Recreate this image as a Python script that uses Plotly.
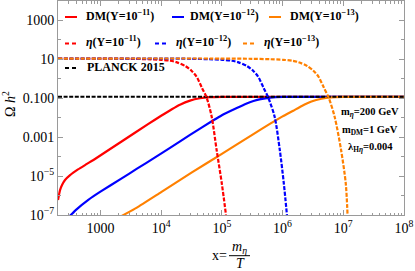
import plotly.graph_objects as go

# ---------------- data ----------------
x_dm11 = [200, 208, 216, 233, 261, 316, 427, 589, 813, 2265, 6080, 1.0e4, 1.5e4, 2.04e4, 2.99e4, 4.37e4, 6.31e4, 1.0e5, 1.0e8]
y_dm11 = [5.9e-7, 1.12e-6, 1.9e-6, 3.5e-6, 6.3e-6, 1.12e-5, 2.2e-5, 4.1e-5, 7.6e-5, 6.2e-4, 4.7e-3, 1.26e-2, 2.75e-2, 4.7e-2, 7.6e-2, 0.100, 0.1135, 0.119, 0.12]

x_dm12 = [280, 400, 631, 1000, 2240, 4000, 7940, 1.4e4, 2.99e4, 7.24e4, 1.0e5, 1.76e5, 2.51e5, 3.31e5, 4.37e5, 6.31e5, 1.0e6, 1.0e8]
y_dm12 = [6.3e-8, 1.9e-7, 6.0e-7, 1.58e-6, 7.6e-6, 2.4e-5, 9.1e-5, 2.8e-4, 1.32e-3, 7.4e-3, 1.35e-2, 3.16e-2, 5.25e-2, 7.2e-2, 9.1e-2, 0.108, 0.1175, 0.12]

x_dm13 = [2240, 3980, 1.0e4, 3.16e4, 1.0e5, 3.16e5, 6.17e5, 1.0e6, 1.5e6, 2.04e6, 2.99e6, 4.37e6, 6.31e6, 1.0e7, 1.0e8]
y_dm13 = [8.9e-8, 2.4e-7, 1.5e-6, 1.5e-5, 1.38e-4, 1.32e-3, 4.8e-3, 1.17e-2, 2.3e-2, 3.9e-2, 6.8e-2, 9.5e-2, 0.112, 0.119, 0.12]

x_eta11 = [200, 1000, 3020, 6030, 1.0e4, 1.41e4, 1.78e4, 2.51e4, 3.16e4, 3.8e4, 4.68e4, 5.62e4, 6.8e4, 8.2e4, 1.0e5, 1.17e5]
y_eta11 = [11, 11, 10.7, 10.2, 9.5, 8.5, 7.2, 4.5, 2.6, 1.35, 0.355, 0.107, 0.0112, 2.2e-4, 4e-6, 1e-7]

x_eta12 = [200, 1.0e4, 3.1e4, 6.2e4, 1.03e5, 1.46e5, 1.84e5, 2.6e5, 3.27e5, 3.93e5, 4.84e5, 5.82e5, 7.4e5, 9.0e5, 1.05e6, 1.18e6]
y_eta12 = [11, 11, 10.7, 10.2, 9.5, 8.5, 7.2, 4.5, 2.6, 1.35, 0.355, 0.107, 0.0112, 2.2e-4, 4e-6, 1e-7]

x_eta13 = [200, 1.0e5, 3.1e5, 6.2e5, 1.02e6, 1.44e6, 1.82e6, 2.56e6, 3.22e6, 3.88e6, 4.78e6, 5.75e6, 7.2e6, 9.2e6, 1.1e7, 1.175e7]
y_eta13 = [11, 11, 10.7, 10.2, 9.5, 8.5, 7.2, 4.5, 2.6, 1.35, 0.355, 0.107, 0.0112, 2.2e-4, 4e-6, 1e-7]

planck_x = [200, 1.0e8]
planck_y = [0.12, 0.12]

x_tickvals = [1e3, 1e4, 1e5, 1e6, 1e7, 1e8]
x_ticktext = ["1000", "10<sup>4</sup>", "10<sup>5</sup>", "10<sup>6</sup>", "10<sup>7</sup>", "10<sup>8</sup>"]
y_tickvals = [1e-7, 1e-5, 1e-3, 1e-1, 1e1, 1e3]
y_ticktext = ["10<sup>\u22127</sup>", "10<sup>\u22125</sup>", "0.001", "0.100", "10", "1000"]
y_minorvals = [1e-6, 1e-4, 1e-2, 1e0, 1e2, 1e4]
x_minorvals = [m * 10 ** e for e in range(2, 8) for m in range(2, 10) if m * 10 ** e > 200]

labels_dm = ["DM(Y=10<sup>\u221211</sup>)", "DM(Y=10<sup>\u221212</sup>)", "DM(Y=10<sup>\u221213</sup>)"]
labels_eta = ["<i>\u03b7</i>(Y=10<sup>\u221211</sup>)", "<i>\u03b7</i>(Y=10<sup>\u221212</sup>)", "<i>\u03b7</i>(Y=10<sup>\u221213</sup>)"]
label_planck = "PLANCK 2015"

RED, BLUE, ORANGE = "#ff0000", "#0000ff", "#ff8000"

# ---------------- layout geometry ----------------
W_FIG, H_FIG = 415, 271
L, R, T, B = 58, 11, 1, 56
PW, PH = W_FIG - L - R, H_FIG - T - B


def px(xp):
    return (xp - L) / PW


def py(yp):
    return 1 - (yp - T) / PH


SERIF = "Liberation Serif"
DASH = "4px,1.6px"

fig = go.Figure()
for xs, ys, c, name in [(x_dm11, y_dm11, RED, labels_dm[0]),
                        (x_dm12, y_dm12, BLUE, labels_dm[1]),
                        (x_dm13, y_dm13, ORANGE, labels_dm[2])]:
    fig.add_trace(go.Scatter(x=xs, y=ys, mode="lines", name=name, showlegend=False,
                             line=dict(color=c, width=2.2, shape="spline", smoothing=0.4)))

fig.add_trace(go.Scatter(x=planck_x, y=planck_y, mode="lines", name=label_planck, showlegend=False,
                         line=dict(color="black", width=2, dash=DASH)))

for xs, ys, c, name in [(x_eta11, y_eta11, RED, labels_eta[0]),
                        (x_eta12, y_eta12, BLUE, labels_eta[1]),
                        (x_eta13, y_eta13, ORANGE, labels_eta[2])]:
    fig.add_trace(go.Scatter(x=xs, y=ys, mode="lines", name=name, showlegend=False,
                             line=dict(color=c, width=2.2, dash=DASH, shape="spline", smoothing=0.8)))

AX = "#9a9a9a"
fig.update_xaxes(type="log", range=[2.30103, 8], showgrid=False, zeroline=False,
                 showline=True, linecolor=AX, linewidth=1, mirror="ticks",
                 ticks="inside", ticklen=5, tickcolor=AX, tickmode="array",
                 tickvals=x_tickvals, ticktext=x_ticktext,
                 tickfont=dict(family=SERIF, size=14, color="black"),
                 minor=dict(ticks="inside", ticklen=2.5, tickcolor=AX, tickmode="array",
                            tickvals=x_minorvals))
fig.update_yaxes(type="log", range=[-7, 4], showgrid=False, zeroline=False,
                 showline=True, linecolor=AX, linewidth=1, mirror="ticks",
                 ticks="inside", ticklen=5, tickcolor=AX, tickmode="array",
                 tickvals=y_tickvals, ticktext=y_ticktext,
                 tickfont=dict(family=SERIF, size=14, color="black"),
                 minor=dict(ticks="inside", ticklen=3, tickcolor=AX, tickmode="array",
                            tickvals=y_minorvals))

annotations = []
shapes = []

# legend (manual, Mathematica style)
LEG_FONT = dict(family=SERIF, size=12, color="black")
legend_items = [
    # (symbol x0, x1, y, text x, color, dashed, label)
    (65, 77, 17, 84, RED, False, labels_dm[0]),
    (172, 184, 17, 188, BLUE, False, labels_dm[1]),
    (269, 281, 17, 288, ORANGE, False, labels_dm[2]),
    (65, 77, 43.5, 84, RED, True, labels_eta[0]),
    (155, 167, 43.5, 174, BLUE, True, labels_eta[1]),
    (243, 255, 43.5, 262, ORANGE, True, labels_eta[2]),
    (65, 77, 68, 85, "black", True, label_planck),
]
for x0, x1, yy, xt, c, dashed, lab in legend_items:
    shapes.append(dict(type="line", xref="paper", yref="paper",
                       x0=px(x0), x1=px(x1), y0=py(yy), y1=py(yy),
                       line=dict(color=c, width=2, dash="4px,3px" if dashed else "solid")))
    annotations.append(dict(xref="paper", yref="paper", x=px(xt), y=py(yy - 1.5),
                            xanchor="left", yanchor="middle", showarrow=False,
                            text="<b>" + lab + "</b>", font=LEG_FONT))

# parameter box
PAR_FONT = dict(family=SERIF, size=10.5, color="black")
for txt, yy in [("<b>m<sub><i>\u03b7</i></sub>=200 GeV</b>", 113),
                ("<b>m<sub>DM</sub>=1 GeV</b>", 130),
                ("<b>\u03bb<sub>H<i>\u03b7</i></sub>=0.004</b>", 147)]:
    annotations.append(dict(xref="paper", yref="paper", x=px(370), y=py(yy),
                            xanchor="center", yanchor="middle", showarrow=False,
                            text=txt, font=PAR_FONT))

# axis titles
TFONT = dict(family=SERIF, size=14, color="black")
annotations.append(dict(xref="paper", yref="paper", x=px(9), y=py(104), textangle=-90,
                        xanchor="center", yanchor="middle", showarrow=False,
                        text="\u03a9 <i>h</i><sup>2</sup>", font=TFONT))
annotations.append(dict(xref="paper", yref="paper", x=px(219), y=py(255),
                        xanchor="center", yanchor="middle", showarrow=False,
                        text="x=", font=TFONT))
annotations.append(dict(xref="paper", yref="paper", x=px(239.5), y=py(247),
                        xanchor="center", yanchor="middle", showarrow=False,
                        text="<i>m</i><sub><i>\u03b7</i></sub>", font=TFONT))
annotations.append(dict(xref="paper", yref="paper", x=px(240.5), y=py(263.5),
                        xanchor="center", yanchor="middle", showarrow=False,
                        text="<i>T</i>", font=TFONT))
shapes.append(dict(type="line", xref="paper", yref="paper",
                   x0=px(229), x1=px(250), y0=py(255.7), y1=py(255.7),
                   line=dict(color="black", width=1)))

fig.update_layout(width=W_FIG, height=H_FIG, margin=dict(l=L, r=R, t=T, b=B),
                  paper_bgcolor="white", plot_bgcolor="white",
                  annotations=annotations, shapes=shapes, showlegend=False)

fig.write_html("out.html", config={"displayModeBar": False},
               post_script="document.body.style.margin='0px';document.body.style.padding='0px';")
